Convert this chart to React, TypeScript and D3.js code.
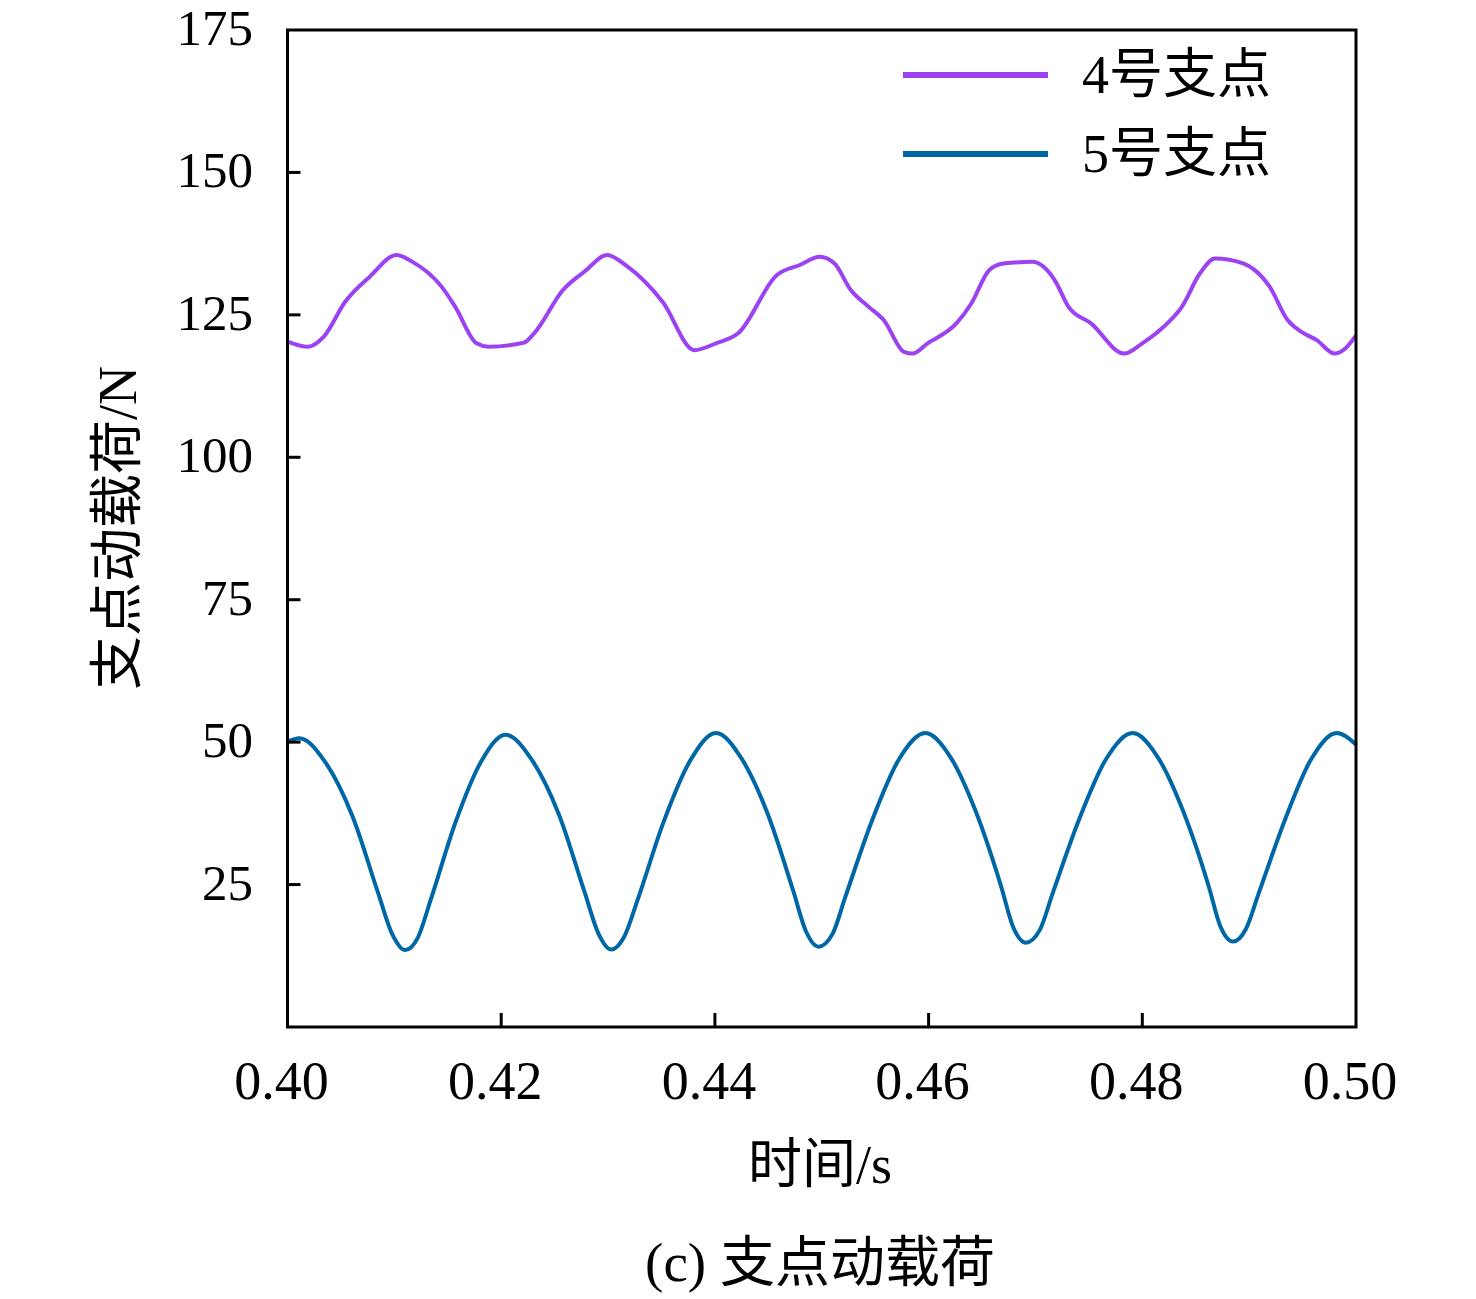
import React, { useRef, useEffect } from 'react';
import * as d3 from 'd3';

// time (s) and load (N)
const time4 = [
  0.4, 0.4019, 0.4034, 0.4054, 0.4077, 0.4102, 0.4117, 0.4144, 0.4157, 0.4177,
  0.4188, 0.4221, 0.4231, 0.4258, 0.4278, 0.4299, 0.4318, 0.4351, 0.4381, 0.4401,
  0.4422, 0.4458, 0.448, 0.4498, 0.4512, 0.4527, 0.4544, 0.4558, 0.4577, 0.4585,
  0.4599, 0.4626, 0.464, 0.4657, 0.467, 0.4697, 0.4718, 0.4731, 0.4752, 0.4783,
  0.48, 0.482, 0.4837, 0.4854, 0.4868, 0.4895, 0.4905, 0.4919, 0.4936, 0.4949,
  0.4963, 0.498, 0.499, 0.5,
];
const load4 = [
  120.3, 119.4, 121.2, 127.3, 131.7, 135.5, 134.3, 130, 126.4, 120,
  119.4, 120.1, 121.8, 129.4, 132.6, 135.5, 133.5, 127.3, 118.8, 120,
  121.8, 132, 133.8, 135.2, 134, 129.4, 126.4, 124.1, 118.5, 118.2,
  120, 123.5, 127, 132.9, 134, 134.3, 131.1, 126.4, 123.5, 118.2,
  120, 122.9, 126.4, 132.3, 134.9, 134, 132.9, 130, 124.1, 122,
  120.6, 118.2, 119.1, 121.4,
];

const time5 = [
  0.4, 0.4011, 0.4036, 0.4061, 0.4085, 0.4098, 0.411,
  0.4122, 0.4134, 0.4157, 0.4181, 0.4204,
  0.4229, 0.4254, 0.4278, 0.4291, 0.4303,
  0.4315, 0.4328, 0.4352, 0.4377, 0.4401,
  0.4425, 0.4449, 0.4473, 0.4485, 0.4497,
  0.451, 0.4522, 0.4547, 0.4572, 0.4597,
  0.4621, 0.4644, 0.4668, 0.4679, 0.4691,
  0.4704, 0.4716, 0.4741, 0.4766, 0.4791,
  0.4815, 0.4838, 0.4862, 0.4873, 0.4885,
  0.4897, 0.4909, 0.4934, 0.4958, 0.4982, 0.5,
];
const load5 = [
  50.1, 50.7, 46.3, 36.9, 23.4, 16.3, 13.5,
  15.7, 22.3, 35.8, 46.5, 51.3,
  46.8, 37.3, 23.7, 16.4, 13.6,
  15.8, 22.5, 36.0, 46.8, 51.6,
  47.1, 37.6, 24.1, 16.9, 14.1,
  16.3, 22.8, 36.2, 46.9, 51.6,
  47.2, 37.9, 24.6, 17.6, 14.8,
  17.0, 23.4, 36.5, 47.0, 51.6,
  47.2, 38.0, 24.8, 17.7, 15.0,
  17.2, 23.5, 36.6, 47.0, 51.6, 49.6,
];

const xTicks = [0.4, 0.42, 0.44, 0.46, 0.48, 0.5];
const yTicks = [25, 50, 75, 100, 125, 150, 175];
const seriesNames = ['4号支点', '5号支点'];
const seriesColors = ['#9b42f2', '#0067a6'];

const FONT = "'Liberation Serif', 'Times New Roman', 'Noto Sans CJK SC', serif";

const W = 1476;
const H = 1299;

const App: React.FC = () => {
  const ref = useRef<SVGSVGElement | null>(null);

  useEffect(() => {
    if (!ref.current) return;
    const svg = d3.select<SVGSVGElement, unknown>(ref.current);
    svg.selectAll('*').remove();

    const left = 287.5;
    const right = 1356;
    const top = 30;
    const bottom = 1027;

    const x = d3.scaleLinear().domain([0.4, 0.5]).range([left, right]);
    const y = d3.scaleLinear().domain([0, 175]).range([bottom, top]);

    svg.append('rect').attr('width', W).attr('height', H).attr('fill', '#fff');

    // series
    const series = [
      time4.map((t, i) => [t, load4[i]] as [number, number]),
      time5.map((t, i) => [t, load5[i]] as [number, number]),
    ];
    const line = d3
      .line<[number, number]>()
      .x(d => x(d[0]))
      .y(d => y(d[1]))
      .curve(d3.curveMonotoneX);

    series.forEach((s, i) => {
      svg
        .append('path')
        .datum(s)
        .attr('d', line)
        .attr('fill', 'none')
        .attr('stroke', seriesColors[i])
        .attr('stroke-width', 4)
        .attr('stroke-linejoin', 'round');
    });

    // frame
    svg
      .append('rect')
      .attr('x', left)
      .attr('y', top)
      .attr('width', right - left)
      .attr('height', bottom - top)
      .attr('fill', 'none')
      .attr('stroke', '#000')
      .attr('stroke-width', 3);

    // y ticks (inward) and labels
    yTicks.forEach(v => {
      if (v < 175) {
        svg
          .append('line')
          .attr('x1', left)
          .attr('x2', left + 13)
          .attr('y1', y(v))
          .attr('y2', y(v))
          .attr('stroke', '#000')
          .attr('stroke-width', 3);
      }
      svg
        .append('text')
        .attr('x', 253)
        .attr('y', y(v) - 2)
        .attr('text-anchor', 'end')
        .attr('dominant-baseline', 'central')
        .style('font-family', FONT)
        .style('font-size', '51px')
        .text(v);
    });

    // x ticks (inward) and labels
    xTicks.forEach(v => {
      if (v > 0.4 && v < 0.5) {
        svg
          .append('line')
          .attr('x1', x(v))
          .attr('x2', x(v))
          .attr('y1', bottom)
          .attr('y2', bottom - 14)
          .attr('stroke', '#000')
          .attr('stroke-width', 3);
      }
      svg
        .append('text')
        .attr('x', x(v) - 6)
        .attr('y', 1081)
        .attr('text-anchor', 'middle')
        .attr('dominant-baseline', 'central')
        .style('font-family', FONT)
        .style('font-size', '54px')
        .text(v.toFixed(2));
    });

    // axis titles
    svg
      .append('text')
      .attr('x', 820)
      .attr('y', 1165)
      .attr('text-anchor', 'middle')
      .attr('dominant-baseline', 'central')
      .style('font-family', FONT)
      .style('font-size', '54px')
      .text('时间/s');

    svg
      .append('text')
      .attr('transform', `translate(118, 528) rotate(-90)`)
      .attr('text-anchor', 'middle')
      .attr('dominant-baseline', 'central')
      .style('font-family', FONT)
      .style('font-size', '54px')
      .text('支点动载荷/N');

    svg
      .append('text')
      .attr('x', 820)
      .attr('y', 1262)
      .attr('text-anchor', 'middle')
      .attr('dominant-baseline', 'central')
      .style('font-family', FONT)
      .style('font-size', '55px')
      .text('(c) 支点动载荷');

    // legend
    seriesNames.forEach((name, i) => {
      const ly = 75 + i * 79;
      svg
        .append('line')
        .attr('x1', 903)
        .attr('x2', 1048)
        .attr('y1', ly)
        .attr('y2', ly)
        .attr('stroke', seriesColors[i])
        .attr('stroke-width', 6);
      svg
        .append('text')
        .attr('x', 1082)
        .attr('y', ly)
        .attr('dominant-baseline', 'central')
        .style('font-family', FONT)
        .style('font-size', '54px')
        .text(name);
    });
  }, []);

  return (
    <svg
      ref={ref}
      width={W}
      height={H}
      style={{ position: 'absolute', left: 0, top: 0 }}
    />
  );
};

export default App;
